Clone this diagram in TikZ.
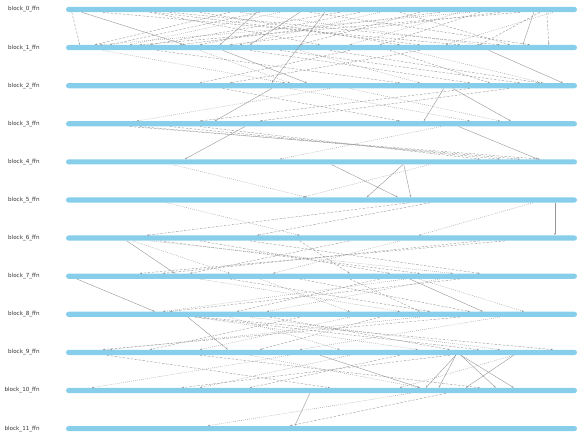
\documentclass[tikz,border=0pt]{standalone}
\usepackage{fontspec}
\setsansfont{DejaVu Sans}
\usetikzlibrary{arrows.meta,positioning}
\definecolor{barblue}{RGB}{135,206,235}
\definecolor{linkgray}{RGB}{150,150,150}

\begin{document}
\begin{tikzpicture}[x=1pt, y=-1pt,
  bar/.style={fill=barblue, draw=none, rounded corners=2.6pt, minimum width=511pt, minimum height=5.2pt, inner sep=0pt},
  lbl/.style={font=\sffamily\fontsize{5.6}{6.5}\selectfont, text=black!80, inner sep=0pt},
  link/.style={draw=linkgray, line width=0.4pt, -{Stealth[length=2.2pt,width=1.6pt]}},
  solidlink/.style={link},
  dashlink/.style={link, dash pattern=on 2.4pt off 1.6pt},
  dotlink/.style={link, dash pattern=on 0.8pt off 1.2pt}
]
\useasboundingbox (0,0) rectangle (586,446);

% layers
\foreach \i in {0,...,11}{
  \node[bar] (b\i) at (321.5, {9.5+38.1*\i}) {};
  \node[lbl, left=26pt of b\i] (l\i) {block\_\i\_ffn};
}

% block_0 -> block_1
\foreach \s/\xa/\xb in {dashlink/72/80, solidlink/82/185, dashlink/103/460, dashlink/150/320,
  dashlink/155/420, dashlink/170/500, dashlink/230/95, dashlink/260/110, dotlink/280/130,
  solidlink/300/250, solidlink/257/220, dashlink/340/150, dashlink/360/200, dotlink/380/240,
  dashlink/400/510, dashlink/420/300, dashlink/440/180, dotlink/460/350, dashlink/480/380,
  dashlink/500/230, solidlink/534/523, dashlink/547/549, dotlink/553/446, dashlink/520/140,
  dashlink/200/400, dotlink/240/480, dashlink/310/530, dotlink/470/100, dashlink/540/480}
  \draw[\s] ([xshift=\xa-66]b0.south west) -- ([xshift=\xb-66]b1.north west);
\draw[solidlink] ([xshift=325-66]b0.south west) -- ([xshift=272-66]b2.north west);

% block_1 -> block_2
\foreach \s/\xa/\xb in {dotlink/103/285, dashlink/157/400, dotlink/200/290, solidlink/223/307,
  dashlink/250/470, dashlink/280/520, dotlink/300/420, dashlink/330/540, dotlink/409/543,
  solidlink/489/563, dashlink/350/200, dashlink/420/230, dashlink/390/490}
  \draw[\s] ([xshift=\xa-66]b1.south west) -- ([xshift=\xb-66]b2.north west);

% block_2 -> block_3
\foreach \s/\xa/\xb in {dotlink/330/137, solidlink/272/215, solidlink/444/424, solidlink/453/511,
  dashlink/509/260, dashlink/223/400, dashlink/470/200, dotlink/350/500, dotlink/290/470}
  \draw[\s] ([xshift=\xa-66]b2.south west) -- ([xshift=\xb-66]b3.north west);

% block_3 -> block_4
\foreach \s/\xa/\xb in {dashlink/130/540, dashlink/140/520, solidlink/245/185, solidlink/459/538,
  dotlink/441/280, dashlink/200/480, dashlink/170/500}
  \draw[\s] ([xshift=\xa-66]b3.south west) -- ([xshift=\xb-66]b4.north west);

% block_4 -> block_5
\foreach \s/\xa/\xb in {dotlink/173/307, dotlink/429/303, solidlink/332/398, solidlink/403/367,
  solidlink/404/411}
  \draw[\s] ([xshift=\xa-66]b4.south west) -- ([xshift=\xb-66]b5.north west);

% block_5 -> block_6
\foreach \s/\xa/\xb in {dotlink/167/300, dashlink/409/147, dashlink/430/257, dotlink/533/419,
  solidlink/555/555}
  \draw[\s] ([xshift=\xa-66]b5.south west) -- ([xshift=\xb-66]b6.north west);

% block_6 -> block_7
\foreach \s/\xa/\xb in {solidlink/127/175, dotlink/133/230, dashlink/505/140, dashlink/480/163,
  dotlink/150/453, dashlink/160/420, dashlink/200/390, dashlink/250/480, dotlink/400/273,
  dashlink/300/350, dashlink/350/190}
  \draw[\s] ([xshift=\xa-66]b6.south west) -- ([xshift=\xb-66]b7.north west);

% block_7 -> block_8
\foreach \s/\xa/\xb in {solidlink/77/155, dotlink/406/163, dashlink/460/170, solidlink/410/483,
  dotlink/419/524, dashlink/380/237, dotlink/440/267, dotlink/200/400, dashlink/230/430,
  dashlink/300/470, dotlink/260/350, dashlink/350/420}
  \draw[\s] ([xshift=\xa-66]b7.south west) -- ([xshift=\xb-66]b8.north west);

% block_8 -> block_9
\foreach \s/\xa/\xb in {dashlink/460/103, dotlink/420/110, solidlink/188/228, dashlink/195/479,
  dashlink/200/553, dotlink/195/418, dotlink/230/340, dashlink/300/150, dotlink/350/200,
  dashlink/380/260, dotlink/250/500, dashlink/270/450, dotlink/500/300}
  \draw[\s] ([xshift=\xa-66]b8.south west) -- ([xshift=\xb-66]b9.north west);

% block_9 -> block_10
\foreach \s/\xa/\xb in {dashlink/107/330, dotlink/290/92, dashlink/450/182, solidlink/456/426,
  solidlink/456/439, solidlink/461/496, solidlink/461/514, solidlink/514/466, dotlink/514/400,
  solidlink/320/420, dashlink/200/480, dotlink/250/420, dashlink/400/250, dotlink/350/200}
  \draw[\s] ([xshift=\xa-66]b9.south west) -- ([xshift=\xb-66]b10.north west);

% block_10 -> block_11
\foreach \s/\xa/\xb in {solidlink/310/295, dotlink/410/208, dashlink/446/290}
  \draw[\s] ([xshift=\xa-66]b10.south west) -- ([xshift=\xb-66]b11.north west);
\end{tikzpicture}
\end{document}
